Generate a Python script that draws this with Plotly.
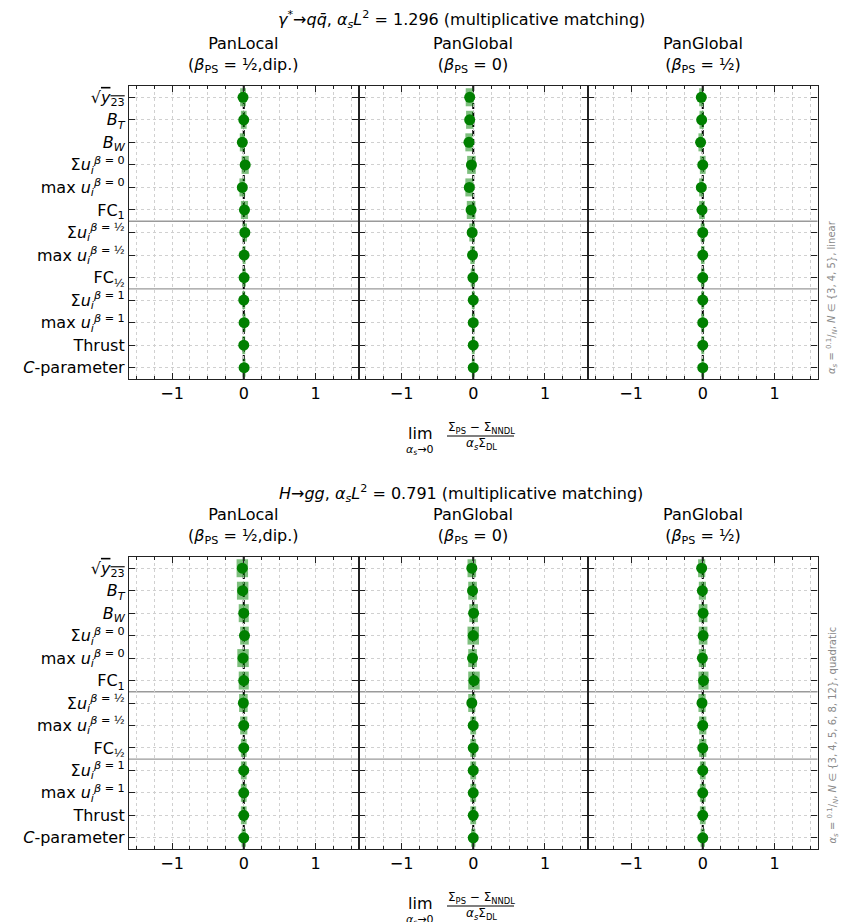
import plotly.graph_objects as go

# ---------------- data ----------------
OV = "style='text-decoration:overline'"
categories = [
    f"√<span {OV}><i>y</i></span><sub><span {OV}>23</span></sub>",
    "<i>B</i><sub><i>T</i></sub>",
    "<i>B</i><sub><i>W</i></sub>",
    "Σ<i>u</i><sub><i>i</i></sub><sup><i>β</i> = 0</sup>",
    "max <i>u</i><sub><i>i</i></sub><sup><i>β</i> = 0</sup>",
    "FC<sub>1</sub>",
    "Σ<i>u</i><sub><i>i</i></sub><sup><i>β</i> = ½</sup>",
    "max <i>u</i><sub><i>i</i></sub><sup><i>β</i> = ½</sup>",
    "FC<sub>½</sub>",
    "Σ<i>u</i><sub><i>i</i></sub><sup><i>β</i> = 1</sup>",
    "max <i>u</i><sub><i>i</i></sub><sup><i>β</i> = 1</sup>",
    "Thrust",
    "<i>C</i>-parameter",
]

panel_titles = [
    "PanLocal<br>(<i>β</i><sub>PS</sub> = ½,dip.)",
    "PanGlobal<br>(<i>β</i><sub>PS</sub> = 0)",
    "PanGlobal<br>(<i>β</i><sub>PS</sub> = ½)",
]
row_titles = [
    "<i>γ</i><sup>*</sup>→<i>q</i><i>q̄</i>, <i>α</i><sub><i>s</i></sub><i>L</i><sup>2</sup> = 1.296 (multiplicative matching)",
    "<i>H</i>→<i>gg</i>, <i>α</i><sub><i>s</i></sub><i>L</i><sup>2</sup> = 0.791 (multiplicative matching)",
]
side_notes = [
    "<i>α</i><sub><i>s</i></sub> = <sup>0.1</sup>/<sub><i>N</i></sub>, <i>N</i> ∈ {3, 4, 5}, linear",
    "<i>α</i><sub><i>s</i></sub> = <sup>0.1</sup>/<sub><i>N</i></sub>, <i>N</i> ∈ {3, 4, 5, 6, 8, 12}, quadratic",
]

# top row: gamma* -> q qbar
top_panlocal      = [-0.01, 0.00, -0.02, 0.02, -0.02, 0.01, 0.015, 0.005, 0.005, 0.0, 0.005, 0.0, 0.005]
top_panlocal_err  = [0.04, 0.04, 0.035, 0.05, 0.04, 0.05, 0.03, 0.02, 0.025, 0.02, 0.02, 0.02, 0.02]
top_pang0         = [-0.05, -0.05, -0.06, -0.025, -0.055, -0.03, -0.015, -0.01, -0.005, 0.0, 0.0, 0.0, 0.0]
top_pang0_err     = [0.055, 0.05, 0.05, 0.06, 0.055, 0.06, 0.04, 0.03, 0.03, 0.02, 0.02, 0.02, 0.02]
top_pang05        = [-0.02, -0.015, -0.03, 0.0, -0.02, -0.01, 0.0, 0.0, 0.0, 0.0, 0.0, 0.0, 0.0]
top_pang05_err    = [0.03, 0.03, 0.03, 0.04, 0.03, 0.04, 0.03, 0.025, 0.025, 0.02, 0.02, 0.02, 0.02]

# bottom row: H -> gg
bot_panlocal      = [-0.02, -0.015, 0.0, 0.01, -0.01, 0.0, -0.005, 0.0, 0.0, 0.0, 0.0, 0.0, 0.0]
bot_panlocal_err  = [0.08, 0.08, 0.07, 0.06, 0.08, 0.07, 0.06, 0.05, 0.04, 0.04, 0.04, 0.04, 0.03]
bot_pang0         = [-0.02, -0.01, 0.005, 0.0, -0.01, 0.01, -0.02, 0.0, 0.0, 0.0, 0.0, 0.0, 0.0]
bot_pang0_err     = [0.06, 0.06, 0.06, 0.08, 0.06, 0.08, 0.05, 0.04, 0.04, 0.04, 0.04, 0.04, 0.03]
bot_pang05        = [-0.015, -0.005, 0.005, 0.005, -0.005, 0.01, -0.01, 0.0, 0.0, 0.0, 0.0, 0.0, 0.0]
bot_pang05_err    = [0.05, 0.05, 0.06, 0.06, 0.05, 0.07, 0.05, 0.05, 0.05, 0.04, 0.04, 0.04, 0.03]

panels = [
    (top_panlocal, top_panlocal_err), (top_pang0, top_pang0_err), (top_pang05, top_pang05_err),
    (bot_panlocal, bot_panlocal_err), (bot_pang0, bot_pang0_err), (bot_pang05, bot_pang05_err),
]
separators = [5.5, 8.5]
x_ticks = [-1, 0, 1]

# ---------------- layout geometry ----------------
W, H = 841, 922
def px(x):
    return x / W
def py(y):
    return 1 - y / H

left, right = 129, 817.5
colw = (right - left) / 3
row_px = [(86, 379), (557, 849)]

fig = go.Figure()
FONT = "DejaVu Sans, Liberation Sans, sans-serif"
GREEN = "#008000"
GRID = "#d0d0d0"

for k, (vals, errs) in enumerate(panels, start=1):
    r, c = divmod(k - 1, 3)
    xa = "x" if k == 1 else f"x{k}"
    ya = "y" if k == 1 else f"y{k}"
    fig.add_trace(go.Bar(
        orientation="h", y=categories, x=[2 * e for e in errs],
        base=[v - e for v, e in zip(vals, errs)], width=0.8,
        marker=dict(color=GREEN, line=dict(width=0)), opacity=0.5,
        xaxis=xa, yaxis=ya, showlegend=False, hoverinfo="skip"))
    fig.add_trace(go.Scatter(
        x=vals, y=categories, mode="markers",
        marker=dict(color=GREEN, size=11),
        xaxis=xa, yaxis=ya, showlegend=False))

    x0 = left + c * colw
    x1 = left + (c + 1) * colw
    top, bot = row_px[r]
    xkey = "xaxis" if k == 1 else f"xaxis{k}"
    ykey = "yaxis" if k == 1 else f"yaxis{k}"
    fig.layout[xkey] = dict(
        domain=[px(x0), px(x1)], anchor=ya, range=[-1.6, 1.6],
        tickvals=x_ticks, ticktext=["−1", "0", "1"],
        ticks="inside", ticklen=6, tickwidth=1.2, tickcolor="#222",
        showline=True, linecolor="#222", linewidth=1.2, mirror="ticks",
        showgrid=True, gridcolor=GRID, griddash="dot", gridwidth=1,
        zeroline=False,
        minor=dict(dtick=0.25, tick0=0, ticks="inside", ticklen=3, tickcolor="#222",
                   showgrid=True, gridcolor=GRID, griddash="dot", gridwidth=1),
        tickfont=dict(size=16, color="black", family=FONT),
    )
    fig.layout[ykey] = dict(
        domain=[py(bot), py(top)], anchor=xa, type="category",
        categoryorder="array", categoryarray=categories,
        range=[12.5, -0.5],
        ticks="inside", ticklen=6, tickwidth=1.2, tickcolor="#222",
        showline=True, linecolor="#222", linewidth=1.2, mirror="ticks",
        showgrid=True, gridcolor=GRID, griddash="dot", gridwidth=1,
        showticklabels=(c == 0),
        tickfont=dict(size=16, color="black", family=FONT),
    )
    for s in separators:
        fig.add_shape(type="line", xref=f"{xa} domain", x0=0, x1=1, yref=ya, y0=s, y1=s,
                      line=dict(color="#9a9a9a", width=1.3), layer="below")
    fig.add_shape(type="line", xref=xa, x0=0, x1=0, yref=f"{ya} domain", y0=0, y1=1,
                  line=dict(color="black", width=2, dash="6px,3px"), layer="below")

ann = []
def A(x, y, text, size, **kw):
    d = dict(x=px(x), y=py(y), xref="paper", yref="paper", text=text, showarrow=False,
             xanchor="center", yanchor="middle", font=dict(size=size, family=FONT, color="black"))
    d.update(kw)
    if "font" in kw:
        d["font"] = dict(family=FONT, **kw["font"])
    ann.append(d)

for r in range(2):
    off = 0 if r == 0 else 470
    A(461, 20 + off + (3 if r else 0), row_titles[r], 16)
    for c in range(3):
        cx = left + (c + 0.5) * colw
        A(cx, 55 + off + (1 if r else 0), panel_titles[c], 16)
    A(420, 433 + off, "lim", 16)
    A(420, 450 + off, "<i>α</i><sub><i>s</i></sub>→0", 11)
    A(481, 428 + off, "Σ<sub>PS</sub> − Σ<sub>NNDL</sub>", 12)
    A(481, 444 + off, "<i>α</i><sub><i>s</i></sub>Σ<sub>DL</sub>", 12)
    fig.add_shape(type="line", xref="paper", yref="paper", x0=px(447), x1=px(514),
                  y0=py(436 + off), y1=py(436 + off), line=dict(color="black", width=1.2))
    A(832, 376 + off, side_notes[r], 10, textangle=-90, yanchor="bottom",
      font=dict(size=10, color="#8a8a8a"))

fig.update_layout(
    width=W, height=H, margin=dict(l=0, r=0, t=0, b=0, pad=0),
    paper_bgcolor="white", plot_bgcolor="white",
    font=dict(family=FONT, color="black"),
    annotations=ann, barmode="overlay", showlegend=False,
)

fig.write_html("out.html")
